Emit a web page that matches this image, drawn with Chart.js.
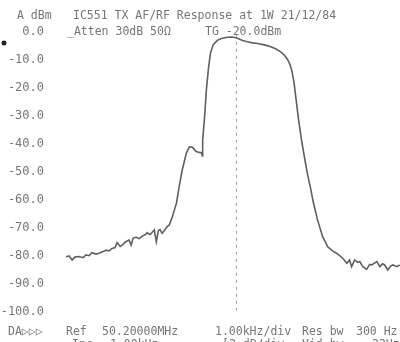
<!DOCTYPE html>
<html>
<head>
<meta charset="utf-8">
<script src="https://cdn.jsdelivr.net/npm/chart.js@4"></script>
<style>
  html, body { margin: 0; padding: 0; background: #fff; }
  canvas { display: block; }
</style>
</head>
<body>
<canvas id="myChart" width="400" height="342"></canvas>
<script>
// frequency offset from 50.20000 MHz, kHz
const freqKHz = [
  -5.00, -4.91, -4.82, -4.74, -4.62, -4.50, -4.41, -4.32, -4.24, -4.12,
  -4.03, -3.91, -3.82, -3.74, -3.65, -3.56, -3.50, -3.41, -3.35, -3.26,
  -3.15, -3.09, -3.03, -2.94, -2.85, -2.76, -2.68, -2.62, -2.53, -2.41,
  -2.35, -2.29, -2.24, -2.18, -2.09, -2.03, -1.97, -1.88, -1.76, -1.68,
  -1.59, -1.47, -1.38, -1.29, -1.18, -1.09, -1.03, -1.00, -0.99, -0.94,
  -0.88, -0.82, -0.76, -0.68, -0.56, -0.44, -0.26, -0.12, 0.03, 0.18,
  0.32, 0.44, 0.62, 0.82, 0.97, 1.15, 1.29, 1.41, 1.50, 1.57,
  1.63, 1.69, 1.75, 1.82, 1.91, 2.00, 2.09, 2.18, 2.26, 2.38,
  2.53, 2.68, 2.82, 2.94, 3.12, 3.24, 3.32, 3.38, 3.47, 3.56,
  3.62, 3.71, 3.82, 3.91, 3.97, 4.12, 4.21, 4.29, 4.35, 4.44,
  4.53, 4.59, 4.71, 4.79
];
// measured level, dBm
const levelDbm = [
  -80.3, -80.0, -81.4, -80.4, -80.2, -80.6, -79.6, -79.9, -78.8, -79.3,
  -79.0, -78.4, -77.9, -78.2, -77.3, -77.0, -75.2, -76.6, -76.1, -75.0,
  -74.3, -76.1, -73.6, -73.3, -73.8, -72.9, -72.4, -71.7, -72.3, -70.7,
  -74.9, -71.0, -70.6, -71.9, -70.5, -69.5, -68.9, -66.0, -61.2, -55.2,
  -49.3, -43.3, -41.0, -41.2, -42.7, -43.0, -43.1, -44.3, -38.6, -31.4,
  -20.5, -13.0, -7.5, -4.5, -3.0, -2.3, -1.9, -1.8, -2.2, -3.0,
  -3.5, -3.8, -4.1, -4.6, -5.1, -6.0, -7.0, -8.3, -9.8, -11.5,
  -14.0, -18.0, -24.0, -31.0, -38.5, -45.0, -51.0, -56.0, -61.0, -67.1,
  -73.1, -76.7, -78.2, -79.0, -80.8, -82.6, -81.4, -83.8, -81.4, -82.3,
  -82.0, -83.8, -84.8, -83.0, -83.2, -82.0, -83.8, -82.8, -83.2, -85.0,
  -83.5, -83.2, -83.8, -83.2
];
const markerX = [0, 0];
const markerY = [-1, -100];

const yMin = -100, yMax = 0, yStep = 10;
const xMin = -5, xMax = 4.8;

const textGray = "#767676";
const mono = "'DejaVu Sans Mono', monospace";

// header / footer annotations of the analyser plot
const annotations = [
  { t: "A dBm", x: 17, y: 16 },
  { t: "IC551 TX AF/RF Response at 1W 21/12/84", x: 73, y: 16 },
  { t: "_Atten 30dB 50Ω", x: 67, y: 32 },
  { t: "TG -20.0dBm", x: 205, y: 32 },
  { t: "DA▷▷▷", x: 8, y: 332 },
  { t: "Ref", x: 66, y: 332 },
  { t: "50.20000MHz", x: 102, y: 332 },
  { t: "1.00kHz/div", x: 215, y: 332 },
  { t: "Res bw", x: 302, y: 332 },
  { t: "300 Hz", x: 356, y: 332 },
  { t: "Inc", x: 72, y: 345 },
  { t: "1.00kHz", x: 110, y: 345 },
  { t: "[2 dB/div", x: 222, y: 345 },
  { t: "Vid bw", x: 302, y: 345 },
  { t: "22Hz", x: 372, y: 345 }
];

const textPlugin = {
  id: 'plotText',
  afterDraw(chart) {
    const ctx = chart.ctx;
    ctx.save();
    ctx.font = "11.5px " + mono;
    ctx.fillStyle = textGray;
    ctx.textBaseline = "middle";
    ctx.textAlign = "left";
    annotations.forEach(a => ctx.fillText(a.t, a.x, a.y));
    // pen dot at left margin
    ctx.fillStyle = "#222";
    ctx.beginPath();
    ctx.arc(4, 43, 2.5, 0, Math.PI * 2);
    ctx.fill();
    ctx.restore();
  }
};

new Chart(document.getElementById('myChart'), {
  type: 'line',
  data: {
    datasets: [
      {
        label: 'Response',
        data: freqKHz.map((f, i) => ({ x: f, y: levelDbm[i] })),
        borderColor: "#5f5f5f",
        borderWidth: 1.6,
        pointRadius: 0,
        tension: 0
      },
      {
        label: 'Centre',
        data: markerX.map((f, i) => ({ x: f, y: markerY[i] })),
        borderColor: "#9a9a9a",
        borderWidth: 1,
        borderDash: [3, 4],
        pointRadius: 0
      }
    ]
  },
  plugins: [textPlugin],
  options: {
    responsive: false,
    animation: false,
    layout: { padding: { top: 32, bottom: 30, right: 0, left: 0 } },
    plugins: {
      legend: { display: false },
      tooltip: { enabled: false }
    },
    scales: {
      x: {
        type: 'linear',
        min: xMin,
        max: xMax,
        display: false
      },
      y: {
        min: yMin,
        max: yMax,
        grid: { display: false },
        border: { display: false },
        afterFit(scale) { scale.width = 66; },
        ticks: {
          stepSize: yStep,
          padding: 14,
          color: textGray,
          font: { family: mono, size: 12 },
          callback: v => v.toFixed(1)
        }
      }
    }
  }
});
</script>
</body>
</html>
